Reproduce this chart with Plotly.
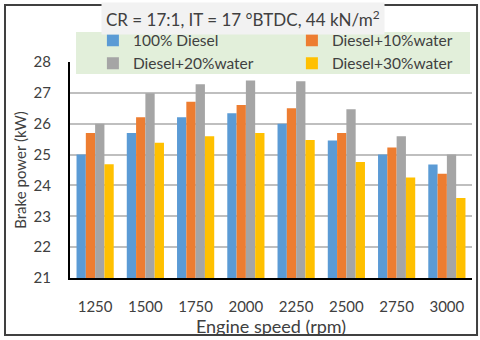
import plotly.graph_objects as go

speeds = ["1250", "1500", "1750", "2000", "2250", "2500", "2750", "3000"]
diesel = [25.0, 25.7, 26.21, 26.34, 26.0, 25.46, 25.0, 24.68]
water10 = [25.7, 26.21, 26.71, 26.61, 26.5, 25.7, 25.23, 24.38]
water20 = [26.0, 26.99, 27.28, 27.4, 27.38, 26.47, 25.59, 25.0]
water30 = [24.69, 25.38, 25.59, 25.7, 25.47, 24.76, 24.26, 23.59]

names = ["100% Diesel", "Diesel+10%water", "Diesel+20%water", "Diesel+30%water"]
colors = ["#5B9BD5", "#ED7D31", "#A5A5A5", "#FFC000"]
series = [diesel, water10, water20, water30]
# Excel-style legend: left column 1st/3rd series, right column 2nd/4th
legend_ids = ["legend", "legend2", "legend", "legend2"]

font = "Lato, 'Open Sans', sans-serif"

fig = go.Figure()
for name, vals, col, lg in zip(names, series, colors, legend_ids):
    fig.add_trace(go.Bar(x=speeds, y=vals, name=name, marker_color=col,
                         marker_line_width=0, legend=lg))

leg_common = dict(orientation="v", y=1.178, yanchor="top", xanchor="left",
                  bgcolor="rgba(0,0,0,0)", font=dict(size=15.5, color="#404040"),
                  itemwidth=30, traceorder="normal", tracegroupgap=0)

fig.update_layout(
    width=480, height=340,
    margin=dict(l=70, r=8, t=62, b=62),
    paper_bgcolor="white", plot_bgcolor="white",
    font=dict(family=font, size=15, color="#404040"),
    barmode="group", bargap=0.26, bargroupgap=0,
    showlegend=True,
    legend=dict(x=0.057, **leg_common),
    legend2=dict(x=0.552, **leg_common),
)

# legend background box
fig.add_shape(type="rect", xref="paper", yref="paper",
              x0=0.015, x1=0.995, y0=0.944, y1=1.139,
              fillcolor="#E2EFDA", line_width=0, layer="above")

fig.add_annotation(
    text="CR = 17:1, IT = 17 °BTDC, 44 kN/m<sup>2</sup>",
    xref="paper", yref="paper", x=0.43, y=1.2, xanchor="center", yanchor="middle",
    showarrow=False, bgcolor="#F2F2F2", borderpad=4,
    font=dict(size=17, color="#404040"),
)

fig.add_shape(type="rect", xref="paper", yref="paper",
              x0=-0.1617, x1=1.0125, y0=-0.264, y1=1.264,
              line=dict(color="#404040", width=2), layer="above")

fig.update_yaxes(range=[21, 28], dtick=1, showgrid=True, gridcolor="#BFBFBF",
                 gridwidth=1.5, showline=True, linecolor="black", linewidth=2,
                 ticks="", ticklabelstandoff=14,
                 title=dict(text="Brake power (kW)", standoff=3,
                            font=dict(size=15)))
fig.update_xaxes(showline=True, linecolor="black", linewidth=2, ticks="",
                 ticklabelstandoff=14,
                 title=dict(text="Engine speed (rpm)", standoff=2))

fig.write_html("out.html", config={"displayModeBar": False},
               post_script="document.body.style.margin='0';")
